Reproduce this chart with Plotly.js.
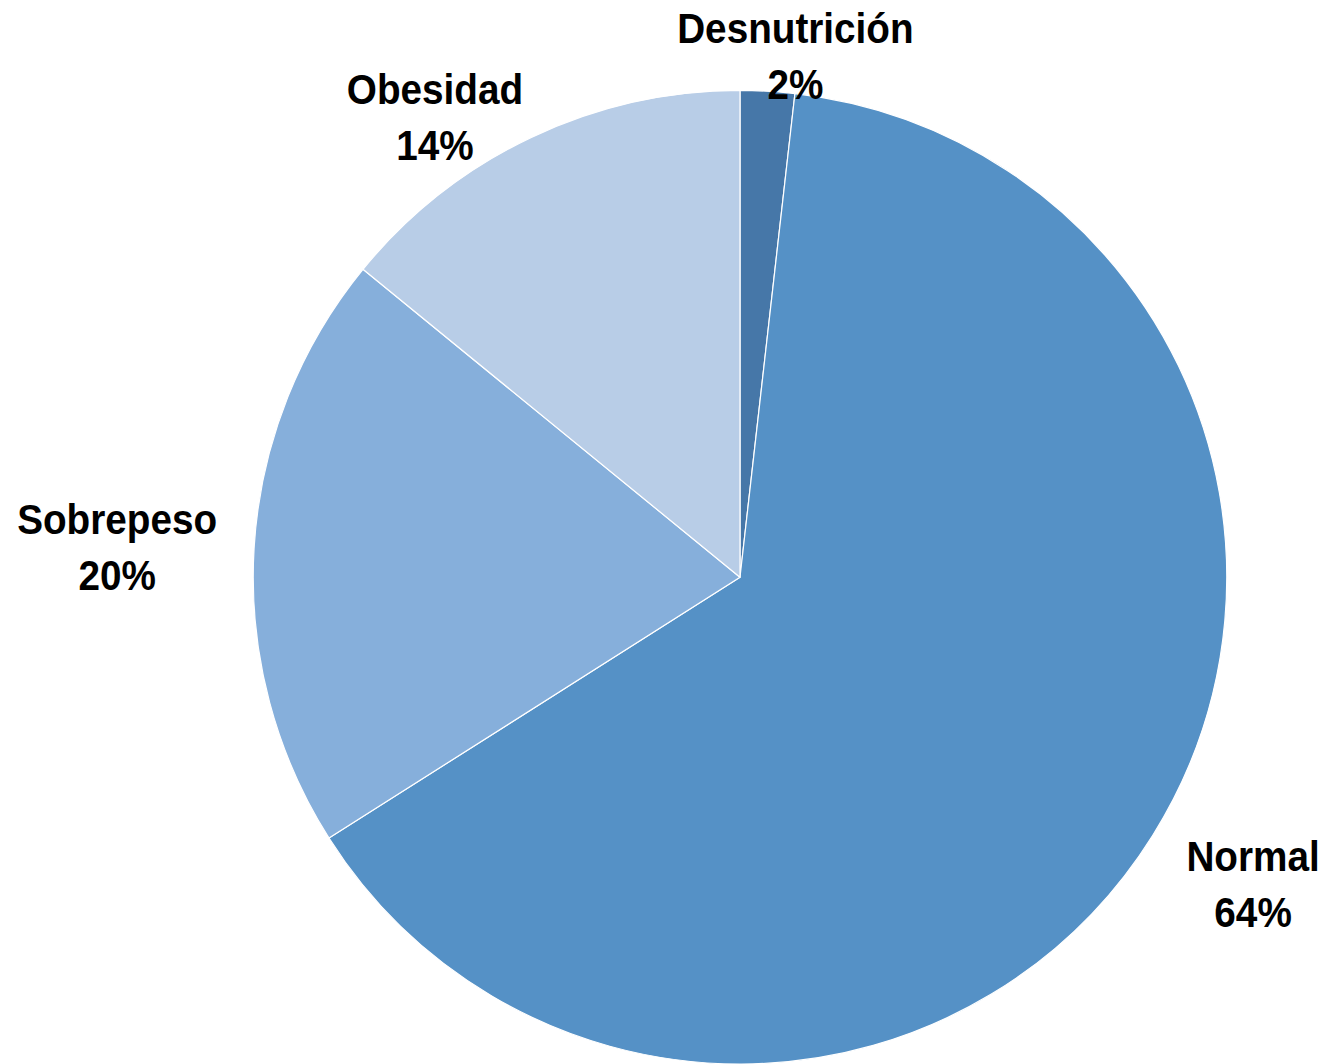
<!DOCTYPE html>
<html>
<head>
<meta charset="utf-8">
<script src="https://cdn.plot.ly/plotly-3.0.1.min.js"></script>
<style>
html,body{margin:0;padding:0;background:#fff;}
#chart{width:1322px;height:1064px;}
#chart .annotation-text{transform-box:fill-box;transform-origin:center;transform:scaleX(0.9);}
</style>
</head>
<body>
<div id="chart"></div>
<script>
const categories = ["Desnutrición", "Normal", "Sobrepeso", "Obesidad"];
const shares = [1.8, 64.2, 19.9, 14.1];
const sliceColors = ["#4677A8", "#5591C6", "#86AFDB", "#B8CDE7"];

// label placement (paper coordinates) – layout only
const labelX = [0.6014, 0.9478, 0.0885, 0.3291];
const labelY = [0.9478, 0.1692, 0.4859, 0.8900];

const labelFont = { family: "'Liberation Sans', Arial, sans-serif", size: 43, color: "#000000" };

const total = shares.reduce((a, b) => a + b, 0);

const trace = {
  type: "pie",
  labels: categories,
  values: shares,
  sort: false,
  direction: "clockwise",
  rotation: 0,
  marker: { colors: sliceColors, line: { color: "#ffffff", width: 1.2 } },
  textinfo: "none",
  hoverinfo: "label+percent",
  domain: { x: [253/1322, 1227/1322], y: [0, 0.915] }
};

const annotations = categories.map((c, i) => ({
  text: "<b>" + c + "<br>" + Math.round(shares[i] / total * 100) + "%</b>",
  xref: "paper", yref: "paper",
  x: labelX[i], y: labelY[i],
  xanchor: "center", yanchor: "middle",
  showarrow: false,
  align: "center",
  font: labelFont
}));

const layout = {
  width: 1322,
  height: 1064,
  margin: { l: 0, r: 0, t: 0, b: 0 },
  showlegend: false,
  paper_bgcolor: "#ffffff",
  plot_bgcolor: "#ffffff",
  annotations: annotations
};

Plotly.newPlot("chart", [trace], layout, { displayModeBar: false, staticPlot: true });
</script>
</body>
</html>
